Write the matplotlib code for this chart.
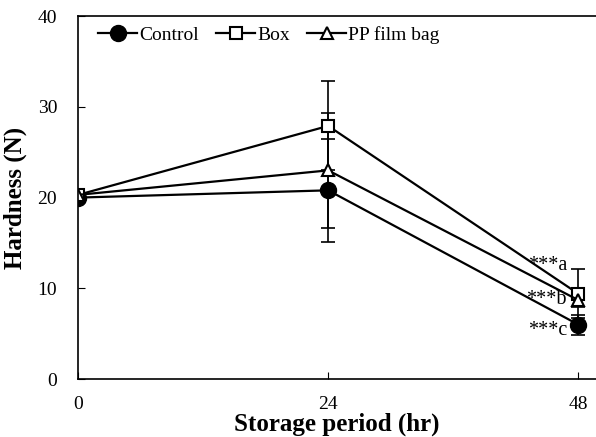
import matplotlib
matplotlib.use('Agg')
import matplotlib.pyplot as plt

plt.rcParams['font.family'] = ['Liberation Serif', 'DejaVu Serif']

hours = [0, 24, 48]
control = [20.0, 20.8, 6.0]
control_err = [0.0, 5.7, 1.1]
box = [20.3, 27.9, 9.4]
box_err = [0.0, 4.9, 2.7]
pp_bag = [20.3, 23.0, 8.7]
pp_err = [0.0, 6.3, 0.8]
labels = ['Control', 'Box', 'PP film bag']
sig_text = ['***a', '***b', '***c']
sig_y = [12.0, 8.3, 4.9]

fig = plt.figure(figsize=(5.96, 4.37), dpi=100)
ax = fig.add_axes([0.131, 0.1327, 0.869, 0.8303])

# error bars first, then lines with markers on top
for vals, err in [(control, control_err), (box, box_err), (pp_bag, pp_err)]:
    ax.errorbar(hours, vals, yerr=err, fmt='none', ecolor='black', elinewidth=1.2,
                capsize=5, capthick=1.2)

ax.plot(hours, control, color='black', lw=1.6, marker='o', ms=11.5, mfc='black',
        mec='black', label=labels[0])
ax.plot(hours, box, color='black', lw=1.6, marker='s', ms=9, mfc='white',
        mec='black', mew=1.5, label=labels[1])
ax.plot(hours, pp_bag, color='black', lw=1.6, marker='^', ms=8.5, mfc='white',
        mec='black', mew=1.5, label=labels[2])

# significance marks
for txt, y in zip(sig_text, sig_y):
    ax.text(46.9, y, txt, ha='right', va='baseline', fontsize=14.5)

ax.set_xlim(0, 49.7)
ax.set_ylim(0, 40)
ax.set_xticks([0, 24, 48])
ax.set_yticks([0, 10, 20, 30, 40])
ax.tick_params(direction='in', length=5, labelsize=14, pad=12)
ax.tick_params(axis='y', pad=15)
for s in ax.spines.values():
    s.set_linewidth(1.2)
ax.spines['right'].set_visible(False)

ax.set_xlabel('Storage period (hr)', fontsize=18, fontweight='bold', labelpad=0)
ax.set_ylabel('Hardness (N)', fontsize=18, fontweight='bold', labelpad=8)

ax.legend(loc='upper left', ncol=3, frameon=False, fontsize=14, handlelength=2.0,
          handletextpad=0.1, columnspacing=0.9, borderaxespad=0.1,
          bbox_to_anchor=(0.02, 1.0))

fig.savefig('out.png', dpi=100)
